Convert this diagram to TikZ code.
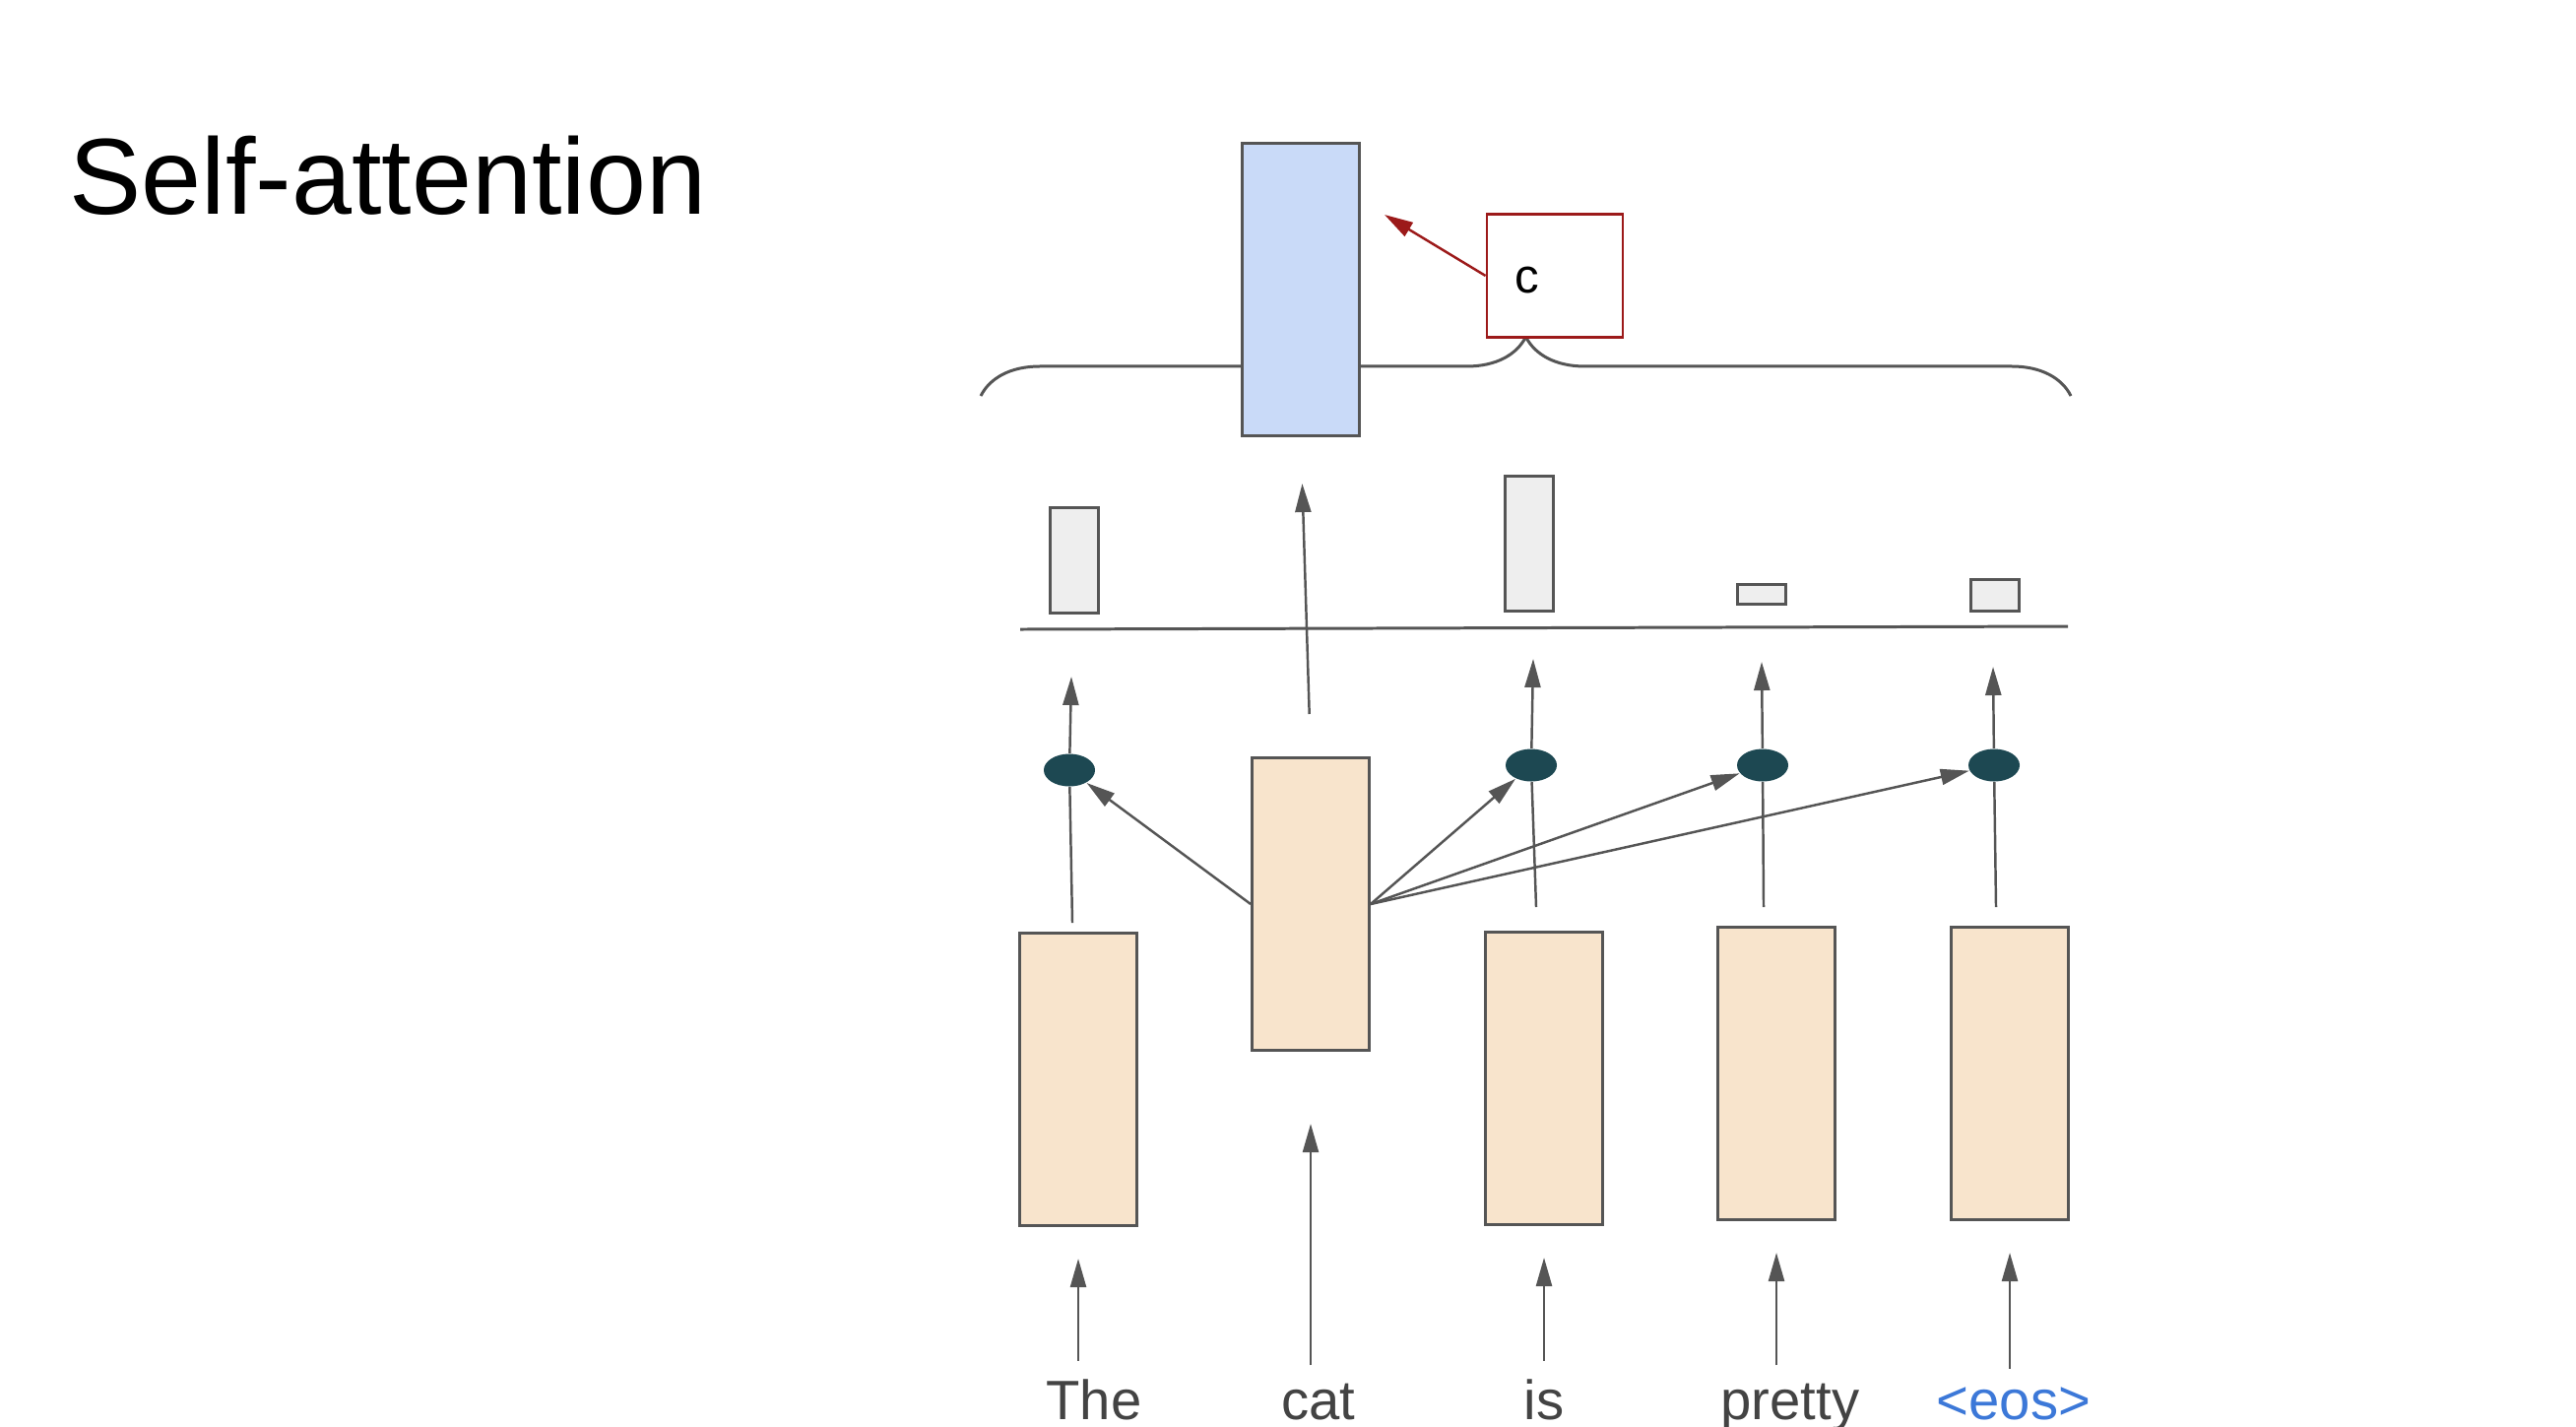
\documentclass[tikz,border=0pt]{standalone}
\usepackage{fontspec}
\setmainfont{Liberation Sans}
\usepackage{xcolor}
\usetikzlibrary{shapes,arrows.meta,positioning,decorations.pathreplacing}

\definecolor{wordfill}{HTML}{F8E4CC}
\definecolor{ctxfill}{HTML}{C9DAF8}
\definecolor{barfill}{HTML}{EEEEEE}
\definecolor{dotfill}{HTML}{1D4852}
\definecolor{edgegray}{HTML}{555555}
\definecolor{wordgray}{HTML}{434343}
\definecolor{eosblue}{HTML}{3C78D8}
\definecolor{berry}{HTML}{9C1A1A}

\begin{document}
\begin{tikzpicture}[
    x=0.01cm, y=-0.01cm,
    every node/.style={font=\fontsize{16}{19}\selectfont},
    wordbox/.style={
        rectangle,
        draw=edgegray,
        line width=0.8pt,
        fill=wordfill,
        minimum width=1.19cm,
        minimum height=2.97cm,
        inner sep=0pt
    },
    ctxbox/.style={wordbox, fill=ctxfill},
    weightbar/.style={
        rectangle,
        draw=edgegray,
        line width=0.75pt,
        fill=barfill,
        minimum width=0.49cm,
        anchor=south,
        inner sep=0pt
    },
    scorebox/.style={
        rectangle,
        draw=berry,
        line width=0.8pt,
        fill=white,
        minimum width=1.38cm,
        minimum height=1.25cm,
        inner sep=0pt
    },
    dot/.style={
        ellipse,
        fill=dotfill,
        minimum width=0.52cm,
        minimum height=0.33cm,
        inner sep=0pt
    },
    word/.style={anchor=base, text=wordgray, inner sep=2pt},
    arrow/.style={-{Triangle[length=0.29cm,width=0.16cm]}, draw=edgegray, line width=0.7pt},
    brace/.style={decorate, decoration={brace, amplitude=0.6cm}, draw=edgegray, line width=0.85pt}
]

\useasboundingbox (0,0) rectangle (2616,1448);

% Title
\node[anchor=base west, inner sep=0pt, font=\fontsize{31.2}{38}\selectfont] (title) at (70,217) {Self-attention};

% Brace and context vector
\coordinate (bl) at (996,402);
\coordinate (br) at (2103,402);
\draw[brace] (bl) -- (br);

\node[ctxbox] (ctx) at (1321,294) {};
\node[scorebox] (cbox) at (1579,280) {};
\node[font=\fontsize{14}{16}\selectfont] (clabel) at (1551,284) {c};

% Attention weights
\node[weightbar, minimum height=1.07cm] (b1) at (1091,624) {};
\node[weightbar, minimum height=1.37cm] (b3) at (1553,622) {};
\node[weightbar, minimum height=0.20cm] (b4) at (1789,615) {};
\node[weightbar, minimum height=0.32cm] (b5) at (2026,622) {};

\coordinate (al) at (1036,639);
\coordinate (ar) at (2100,636);
\draw[edgegray, line width=0.85pt] (al) -- (ar);

% Word boxes
\node[wordbox] (w1) at (1095,1096) {};
\node[wordbox] (w2) at (1331,918) {};
\node[wordbox] (w3) at (1568,1095) {};
\node[wordbox] (w4) at (1804,1090) {};
\node[wordbox] (w5) at (2041,1090) {};

% Words
\node[word] (lThe) at (1111,1441) {The};
\node[word] (lcat) at (1339,1441) {cat};
\node[word] (lis) at (1568,1441) {is};
\node[word] (lpretty) at (1818,1441) {pretty};
\node[word, text=eosblue] (leos) at (2045,1441) {<eos>};

% Dots
\node[dot] (d1) at (1086,782) {};
\node[dot] (d3) at (1555,777) {};
\node[dot] (d4) at (1790,777) {};
\node[dot] (d5) at (2025,777) {};

\coordinate (s1) at (1089,937);
\coordinate (s3) at (1560,921);
\coordinate (s4) at (1791,921);
\coordinate (s5) at (2027,921);
\coordinate (t1) at (1088,687);
\coordinate (t3) at (1557,669);
\coordinate (t4) at (1789,672);
\coordinate (t5) at (2024,677);
\coordinate (ctip) at (1406,218);

% Arrows
\draw[arrow, shorten <=3pt, shorten >=0.32cm] (w1.south |- lThe.north) -- (w1.south);
\draw[arrow, shorten <=3pt, shorten >=0.73cm] (w2.south |- lcat.north) -- (w2.south);
\draw[arrow, shorten <=3pt, shorten >=0.32cm] (w3.south |- lis.north) -- (w3.south);
\draw[arrow, shorten <=3pt, shorten >=0.32cm] (w4.south |- lpretty.north) -- (w4.south);
\draw[arrow, shorten <=3pt, shorten >=0.32cm] (w5.south |- leos.north) -- (w5.south);

\draw[arrow] (s1) -- (d1) -- (t1);
\draw[arrow] (s3) -- (d3) -- (t3);
\draw[arrow] (s4) -- (d4) -- (t4);
\draw[arrow] (s5) -- (d5) -- (t5);

\draw[arrow] (w2.west) -- (d1);
\draw[arrow] (w2.east) -- (d3);
\draw[arrow] (w2.east) -- (d4);
\draw[arrow] (w2.east) -- (d5);

\draw[arrow, shorten <=0.43cm, shorten >=0.47cm] (w2.north) -- (ctx.south);

\draw[arrow, draw=berry, fill=berry] (cbox.west) -- (ctip);

\end{tikzpicture}
\end{document}
